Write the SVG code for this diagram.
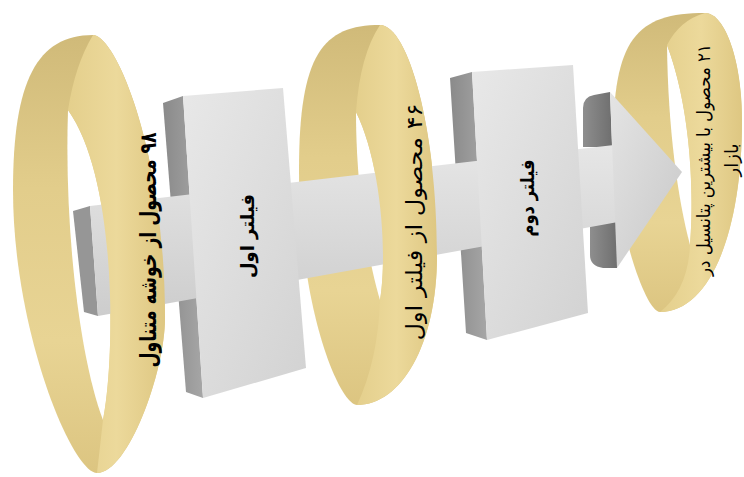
<svg xmlns="http://www.w3.org/2000/svg" width="744" height="477" viewBox="0 0 744 477">
<style>
.inner{fill:url(#gInner)}
.band{fill:url(#gBand)}
.hole{fill:#ffffff}
.side{fill:url(#gSide)}
.face{fill:url(#gFace)}
.lbl{font-family:"DejaVu Sans",sans-serif;fill:#000;text-anchor:middle;dominant-baseline:central}
</style>
<defs>
<linearGradient id="gInner" x1="0" y1="0" x2="0" y2="1">
<stop offset="0" stop-color="#d0ba79"/>
<stop offset="0.35" stop-color="#e2cd8b"/>
<stop offset="0.7" stop-color="#e8d494"/>
<stop offset="1" stop-color="#dcc581"/>
</linearGradient>
<linearGradient id="gBand" x1="0" y1="0" x2="1" y2="0">
<stop offset="0" stop-color="#e4cf8c"/>
<stop offset="0.5" stop-color="#ecd99b"/>
<stop offset="1" stop-color="#dec782"/>
</linearGradient>
<linearGradient id="gSide" x1="0" y1="0" x2="1" y2="0">
<stop offset="0" stop-color="#8a8a8a"/>
<stop offset="1" stop-color="#a6a6a6"/>
</linearGradient>
<linearGradient id="gFace" x1="0" y1="0" x2="1" y2="1">
<stop offset="0" stop-color="#e8e8e8"/>
<stop offset="1" stop-color="#d2d2d2"/>
</linearGradient>
<linearGradient id="gBar" x1="0" y1="0" x2="0" y2="1">
<stop offset="0" stop-color="#e6e6e6"/>
<stop offset="1" stop-color="#cdcdcd"/>
</linearGradient>
<linearGradient id="gHead" x1="0" y1="0" x2="1" y2="1">
<stop offset="0" stop-color="#e4e4e4"/>
<stop offset="1" stop-color="#c8c8c8"/>
</linearGradient>
<linearGradient id="gDark" x1="0" y1="0" x2="1" y2="0">
<stop offset="0" stop-color="#8e8e8e"/>
<stop offset="1" stop-color="#6f6f6f"/>
</linearGradient>
</defs>

<!-- ring 1 (back) -->
<g id="ring1">
<path class="inner" d="M93,35 C115,35 165,148 165,318 C165,372 128,473 97,473 C72,473 13,331 13,190 C13,81 37,35 93,35 Z"/>
<path class="hole" d="M68,110 C64,230 80,360 103,420 C115,360 118,180 68,110 Z"/>
</g>

<!-- ring 2 (back) -->
<g id="ring2">
<path class="inner" d="M380,25 C408,25 437,128 437,255 C437,345 401,405 357,405 C340,405 299,311 299,170 C299,54 323,25 380,25 Z"/>
<path class="hole" d="M356,112 C356,190 368,260 380,300 C388,250 380,160 356,112 Z"/>
</g>

<!-- ring 3 -->
<g id="ring3">
<path class="inner" d="M705,13 C725,13 742,61 742,120 C742,235 709,312 660,312 C644,312 613,212 613,145 C613,39 636,13 705,13 Z"/>
<path class="hole" d="M667,45 C668,130 678,200 690,245 C695,180 688,100 667,45 Z"/>
<path class="band" d="M705,13 Q680,20 667,45 C688,100 695,180 690,245 Q688,290 660,312 C709,312 742,235 742,120 C742,61 725,13 705,13 Z"/>
<text class="lbl" direction="rtl" font-size="18" transform="translate(716,160) rotate(-90)"><tspan x="0" y="-13" textLength="232" lengthAdjust="spacingAndGlyphs">۲۱ محصول با بیشترین پتانسیل در</tspan><tspan x="0" y="15">بازار</tspan></text>
</g>

<!-- box side faces -->
<g id="filter1-side">
<polygon class="side" points="163,103 183,96 203,398 186,392"/>
</g>
<g id="filter2-side">
<polygon class="side" points="450,78 472,72 487,340 466,333"/>
</g>

<!-- connector: arrow -->
<g id="connectors">
<path fill="url(#gDark)" d="M583,147 L583,108 Q583,97 594,95 L610,92 L612,147 Z"/>
<path fill="url(#gDark)" d="M590,221 L617,221 L617,268 L603,268 Q590,266 590,255 Z"/>
<polygon fill="#969696" points="73,211 90,206 98,316 84,312"/>
<polygon fill="url(#gBar)" points="90,206 614,145 618,222 98,316"/>
<polygon fill="url(#gHead)" points="610,92 682,172 617,268"/>
</g>

<!-- box fronts -->
<g id="filter1">
<polygon class="face" points="183,96 283,88 306,368 203,398"/>
<text class="lbl" direction="rtl" font-size="19" font-weight="bold" textLength="84" lengthAdjust="spacingAndGlyphs" transform="translate(247,236) rotate(-90)">فیلتر اول</text>
</g>
<g id="filter2">
<polygon class="face" points="472,72 573,65 588,313 487,340"/>
<text class="lbl" direction="rtl" font-size="19" font-weight="bold" textLength="77" lengthAdjust="spacingAndGlyphs" transform="translate(527,198) rotate(-90)">فیلتر دوم</text>
</g>

<!-- ring fronts -->
<g id="ring1-front">
<path class="band" d="M93,35 Q75,65 68,110 C118,180 115,360 103,420 L97,473 C128,473 165,372 165,318 C165,148 115,35 93,35 Z"/>
<text class="lbl" direction="rtl" font-size="23" font-weight="bold" textLength="235" lengthAdjust="spacingAndGlyphs" transform="translate(148,250) rotate(-90)">۹۸ محصول از خوشه متناول</text>
</g>
<g id="ring2-front">
<path class="band" d="M380,25 Q360,55 356,112 C380,160 388,250 380,300 Q378,360 357,405 C401,405 437,345 437,255 C437,128 408,25 380,25 Z"/>
<text class="lbl" direction="rtl" font-size="22" textLength="237" lengthAdjust="spacingAndGlyphs" transform="translate(414,222) rotate(-90)">۴۶ محصول از فیلتر اول</text>
</g>
</svg>
